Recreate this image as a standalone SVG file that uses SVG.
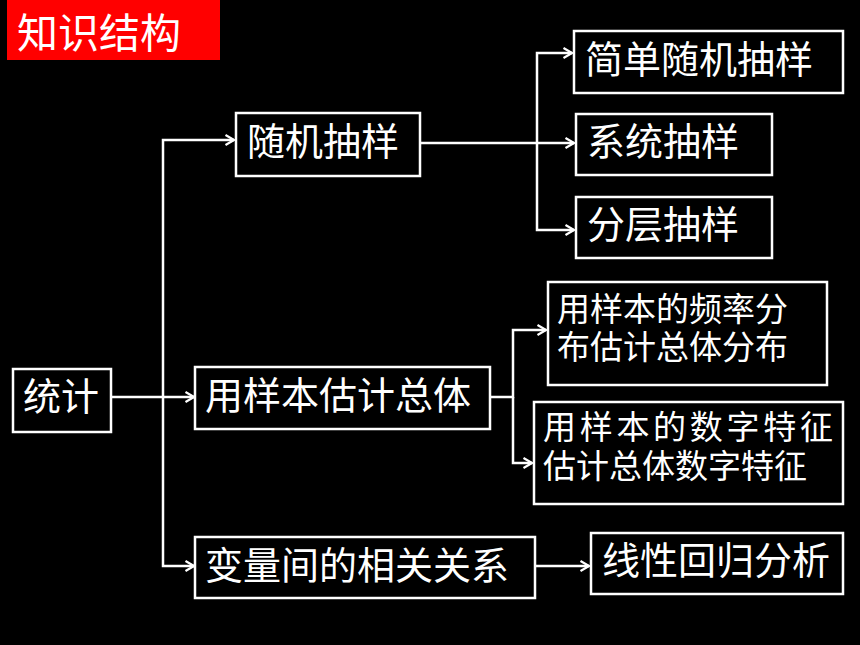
<svg xmlns="http://www.w3.org/2000/svg" width="860" height="645" viewBox="0 0 860 645">
<style>
.box{fill:none;stroke:#fff;stroke-width:2.5}
.t{fill:#fff;font-family:"Noto Sans CJK SC","Noto Sans CJK JP",sans-serif;font-size:38px}
.s{font-size:33px}
.c{fill:none;stroke:#fff;stroke-width:2.5}
</style>
<defs>
<marker id="ar" viewBox="0 0 10 12" refX="9.5" refY="6" markerWidth="10" markerHeight="12" markerUnits="userSpaceOnUse" orient="auto">
<path d="M1,1 L9.5,6 L1,11" fill="none" stroke="#fff" stroke-width="2.2"/>
</marker>
</defs>
<rect width="860" height="645" fill="#000"/>
<g id="title">
<rect x="7" y="0" width="213" height="60" fill="#ff0000"/>
<text class="t" x="17" y="48" style="font-size:41px">知识结构</text>
</g>
<g id="connectors">
<path class="c" d="M111,397 H194" marker-end="url(#ar)"/>
<path class="c" d="M163,397 V140 H234" marker-end="url(#ar)"/>
<path class="c" d="M163,397 V566 H194" marker-end="url(#ar)"/>
<path class="c" d="M420,143 H574" marker-end="url(#ar)"/>
<path class="c" d="M537,143 V53 H572" marker-end="url(#ar)"/>
<path class="c" d="M537,143 V230 H574" marker-end="url(#ar)"/>
<path class="c" d="M490,397 H513 V330 H546" marker-end="url(#ar)"/>
<path class="c" d="M513,397 V463 H532" marker-end="url(#ar)"/>
<path class="c" d="M535,566 H589" marker-end="url(#ar)"/>
</g>
<g id="n-tongji">
<rect class="box" x="13" y="369" width="98" height="63"/>
<text class="t" x="23" y="410">统计</text>
</g>
<g id="n-suiji">
<rect class="box" x="236" y="113" width="184" height="63"/>
<text class="t" x="247" y="155">随机抽样</text>
</g>
<g id="n-jiandan">
<rect class="box" x="574" y="31" width="269" height="62"/>
<text class="t" x="585" y="73">简单随机抽样</text>
</g>
<g id="n-xitong">
<rect class="box" x="576" y="114" width="196" height="61"/>
<text class="t" x="587" y="155">系统抽样</text>
</g>
<g id="n-fenceng">
<rect class="box" x="576" y="197" width="196" height="61"/>
<text class="t" x="587" y="238">分层抽样</text>
</g>
<g id="n-guji">
<rect class="box" x="195" y="367" width="295" height="62"/>
<text class="t" x="205" y="409">用样本估计总体</text>
</g>
<g id="n-pinlv">
<rect class="box" x="548" y="282" width="279" height="103"/>
<text class="t s" x="557" y="321">用样本的频率分</text>
<text class="t s" x="557" y="359">布估计总体分布</text>
</g>
<g id="n-shuzi">
<rect class="box" x="534" y="402" width="309" height="102"/>
<text class="t s" x="543" y="439" style="letter-spacing:3.7px">用样本的数字特征</text>
<text class="t s" x="543" y="478">估计总体数字特征</text>
</g>
<g id="n-bianliang">
<rect class="box" x="195" y="537" width="340" height="61"/>
<text class="t" x="205" y="579">变量间的相关关系</text>
</g>
<g id="n-xianxing">
<rect class="box" x="591" y="533" width="252" height="61"/>
<text class="t" x="602" y="574">线性回归分析</text>
</g>
</svg>
